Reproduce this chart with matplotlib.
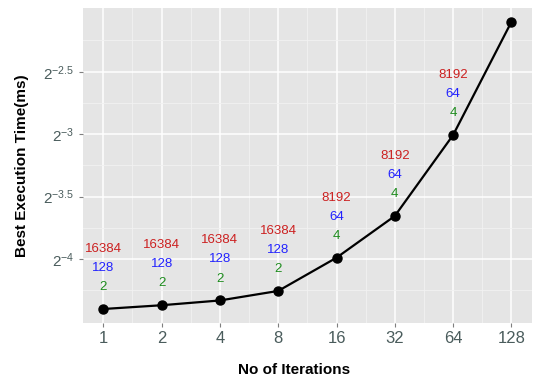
import numpy as np
import matplotlib
matplotlib.use("Agg")
import matplotlib.pyplot as plt

plt.rcParams['font.family'] = ['Liberation Sans', 'DejaVu Sans']
plt.rcParams['mathtext.fontset'] = 'custom'
plt.rcParams['mathtext.rm'] = 'Liberation Sans'
plt.rcParams['mathtext.it'] = 'Liberation Sans:italic'

# Iteration counts and best execution time (ms)
iterations = ['1', '2', '4', '8', '16', '32', '64', '128']
best_time_ms = [0.0474, 0.0484, 0.0497, 0.0524, 0.0630, 0.0794, 0.1244, 0.233]

# Configuration labels stacked above each point (none for the last one)
label_top = ['16384', '16384', '16384', '16384', '8192', '8192', '8192', None]
label_mid = ['128', '128', '128', '128', '64', '64', '64', None]
label_low = ['2', '2', '2', '2', '4', '4', '4', None]

y_exponents = [-4, -3.5, -3, -2.5]

axis_text = '#4A5C5C'
fig = plt.figure(figsize=(5.35, 3.8), dpi=100)
ax = fig.add_axes([0.155, 0.150, 0.839, 0.829])
ax.set_facecolor('#E5E5E5')

x = np.arange(len(iterations))
ax.plot(x, best_time_ms, color='black', lw=1.6, marker='o', ms=6.5, zorder=3)

for xi, yi, t, m, l in zip(x, best_time_ms, label_top, label_mid, label_low):
    if t is None:
        continue
    for txt, off, col in [(l, 15.8, '#1E8C1E'), (m, 29.5, '#2222FF'), (t, 43.2, '#CC2020')]:
        ax.annotate(txt, (xi, yi), xytext=(0, off), textcoords='offset points',
                    ha='center', va='center', color=col, fontsize=9.5)

ax.set_yscale('log', base=2)
ax.set_xlim(-0.35, len(iterations) - 1 + 0.35)
ax.set_ylim(2 ** -4.511, 2 ** -1.99)

ax.set_xticks(x)
ax.set_xticklabels(iterations)
ax.set_xticks(x[:-1] + 0.5, minor=True)
ax.set_yticks([2.0 ** e for e in y_exponents])
ax.set_yticklabels(['$2^{%g}$' % e for e in y_exponents])
ax.set_yticks([2.0 ** e for e in [-4.25, -3.75, -3.25, -2.75, -2.25]], minor=True)
ax.yaxis.set_minor_formatter(plt.NullFormatter())

ax.grid(which='major', color='white', lw=1.1)
ax.grid(which='minor', color='#F2F2F2', lw=0.6)
ax.set_axisbelow(True)
ax.tick_params(which='major', length=3, color='#7F7F7F', labelcolor=axis_text, pad=3)
ax.tick_params(axis='x', which='major', labelsize=12)
ax.tick_params(axis='y', which='major', labelsize=11)
ax.tick_params(which='minor', length=0)
for s in ax.spines.values():
    s.set_visible(False)

fig.text(294 / 535, 1 - 370 / 380, 'No of Iterations', ha='center', va='center',
         fontsize=11, fontweight='bold')
fig.text(22 / 535, 1 - 166 / 380, 'Best Execution Time(ms)', ha='center', va='center',
         rotation=90, fontsize=11, fontweight='bold')

fig.savefig('out.png', dpi=100)
